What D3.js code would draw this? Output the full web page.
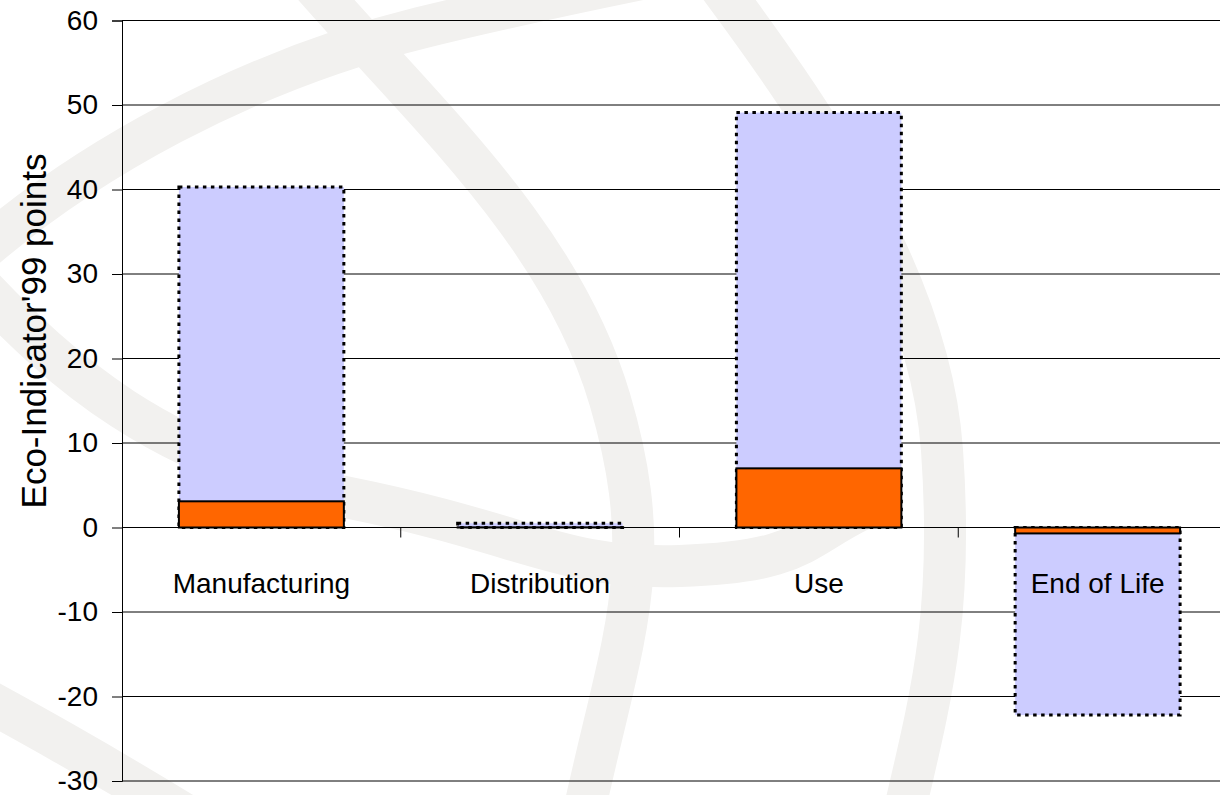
<!DOCTYPE html>
<html>
<head>
  <meta charset="utf-8">
  <title>Eco-Indicator'99 points</title>
  <script src="https://d3js.org/d3.v7.min.js"></script>
  <style>
    body { margin: 0; background: #fff; }
    text { font-family: Arial, "Liberation Sans", sans-serif; fill: #000; }
  </style>
</head>
<body>
<script>
// data
var categories = ["Manufacturing", "Distribution", "Use", "End of Life"];
var backValues = [40.3, 0.5, 49.1, -22.2];   // lavender, dotted outline
var frontValues = [3.1, 0.02, 7.0, -0.7];    // orange, solid outline
var yTicks = [-30, -20, -10, 0, 10, 20, 30, 40, 50, 60];

var width = 1220, height = 795;
var plotL = 122, plotR = 1237, plotT = 20.5, plotB = 781;

var svg = d3.select("body").append("svg")
  .attr("width", width).attr("height", height);

// background watermark (light grey globe strokes)
var marks = [
  "M -40,270 C 80,160 250,70 420,28 S 700,-30 820,-60",
  "M 300,-30 C 420,110 560,230 610,400 S 620,640 580,830",
  "M 700,-40 C 820,120 930,280 942,450 S 930,700 900,830",
  "M -20,285 C 60,370 160,460 345,497 S 560,570 680,566 S 800,540 860,510",
  "M -60,675 C 20,718 100,762 210,830"
];
svg.append("g").selectAll("path")
  .data(marks).enter().append("path")
  .attr("d", function(d) { return d; })
  .attr("fill", "none")
  .attr("stroke", "#f2f1ef")
  .attr("stroke-width", 42);

var x = d3.scaleBand().domain(categories).range([plotL, plotR]).padding(0);
var y = d3.scaleLinear().domain([-30, 60]).range([plotB, plotT]);
var barW = x.bandwidth() / 1.69;
var off = (x.bandwidth() - barW) / 2;

// gridlines
svg.append("g").selectAll("line")
  .data(yTicks).enter().append("line")
  .attr("x1", plotL).attr("x2", plotR)
  .attr("y1", function(d) { return y(d); })
  .attr("y2", function(d) { return y(d); })
  .attr("stroke", "#000").attr("stroke-width", 1);

// y axis
var yAxis = d3.axisLeft(y).tickValues(yTicks).tickSize(10).tickPadding(14)
  .tickFormat(function(d) { return String(d); });
var ga = svg.append("g").attr("transform", "translate(" + plotL + ",0)").call(yAxis);
ga.select(".domain").attr("stroke", "#000");
ga.selectAll(".tick line").attr("stroke", "#000");
ga.selectAll(".tick text").style("font-size", "28px")
  .style("font-family", "Arial, 'Liberation Sans', sans-serif").attr("fill", "#000");

// lavender bars
svg.append("g").selectAll("rect")
  .data(backValues).enter().append("rect")
  .attr("x", function(d, i) { return x(categories[i]) + off; })
  .attr("y", function(d) { return y(Math.max(0, d)); })
  .attr("width", barW)
  .attr("height", function(d) { return Math.abs(y(d) - y(0)); })
  .attr("fill", "#ccccff")
  .attr("stroke", "#000")
  .attr("stroke-width", 3)
  .attr("stroke-dasharray", "3.5,4.5");

// orange bars
svg.append("g").selectAll("rect")
  .data(frontValues).enter().append("rect")
  .attr("x", function(d, i) { return x(categories[i]) + off; })
  .attr("y", function(d) { return y(Math.max(0, d)); })
  .attr("width", barW)
  .attr("height", function(d) { return Math.abs(y(d) - y(0)); })
  .attr("fill", "#ff6600")
  .attr("stroke", "#000")
  .attr("stroke-width", 2);

// category ticks on zero line
var cutPoints = categories.slice(1).map(function(c) { return x(c); });
svg.append("g").selectAll("line")
  .data(cutPoints).enter().append("line")
  .attr("x1", function(d) { return d; }).attr("x2", function(d) { return d; })
  .attr("y1", y(0)).attr("y2", y(0) + 10)
  .attr("stroke", "#000").attr("stroke-width", 1);

// category labels
svg.append("g").selectAll("text")
  .data(categories).enter().append("text")
  .attr("x", function(d) { return x(d) + x.bandwidth() / 2; })
  .attr("y", y(0) + 65)
  .attr("text-anchor", "middle")
  .style("font-size", "28px")
  .text(function(d) { return d; });

// y title
svg.append("text")
  .attr("transform", "translate(46,331) rotate(-90)")
  .attr("text-anchor", "middle")
  .style("font-size", "35px")
  .text("Eco-Indicator'99 points");
</script>
</body>
</html>
